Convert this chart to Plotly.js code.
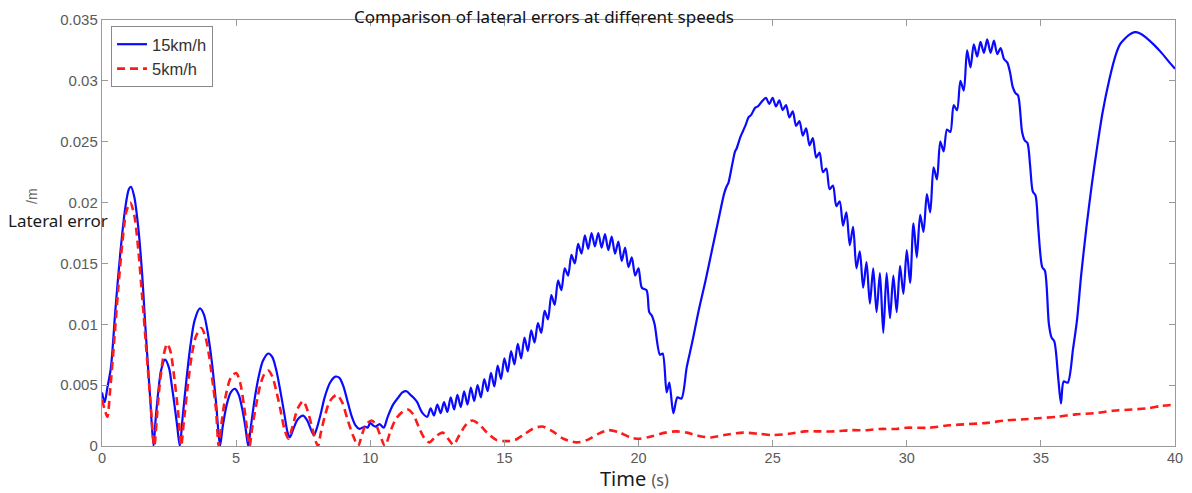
<!DOCTYPE html>
<html>
<head>
<meta charset="utf-8">
<script src="https://cdn.plot.ly/plotly-3.0.1.min.js"></script>
<style>
  html, body { margin: 0; padding: 0; background: #ffffff; }
  #chart { width: 1192px; height: 493px; }
</style>
</head>
<body>
<div id="chart"></div>
<script>
// ---- Data ----
const seriesNames = ["15km/h", "5km/h"];

const time15 = [
  0, 0.1, 0.2, 0.33, 0.5, 0.68, 0.87, 1.0, 1.08, 1.2, 1.35, 1.5, 1.6, 1.7, 1.8, 1.92,
  2.0, 2.1, 2.2, 2.35, 2.5, 2.6, 2.7, 2.8, 2.9,
  3.0, 3.15, 3.3, 3.45, 3.65, 3.8, 3.95, 4.1, 4.25, 4.4,
  4.5, 4.65, 4.8, 4.96, 5.1, 5.25, 5.35, 5.45,
  5.55, 5.7, 5.85, 6.0, 6.2, 6.35, 6.5, 6.65, 6.8, 6.92, 7.0,
  7.15, 7.3, 7.5, 7.65, 7.8, 7.9,
  8.0, 8.15, 8.3, 8.5, 8.7, 8.85, 9.0, 9.15, 9.3, 9.45, 9.6,
  9.8, 9.9, 10.0, 10.1, 10.2, 10.35, 10.5, 10.65, 10.85, 11.05, 11.2, 11.35, 11.5, 11.6, 11.75, 11.85, 11.95,
  12.125, 12.25, 12.375, 12.5, 12.625, 12.75, 12.875, 13.0, 13.125, 13.25, 13.375, 13.5, 13.625, 13.75, 13.875,
  14.0, 14.125, 14.25, 14.375, 14.5, 14.625, 14.75, 14.875, 15.0, 15.125, 15.25, 15.375, 15.5, 15.625, 15.75, 15.875,
  16.0, 16.125, 16.25, 16.375, 16.5, 16.625, 16.75, 16.875, 17.0, 17.125, 17.25, 17.375, 17.5, 17.625, 17.75, 17.875,
  18.0, 18.125, 18.25, 18.375, 18.5, 18.625, 18.75, 18.875, 19.0, 19.125, 19.25, 19.375, 19.5, 19.625, 19.75, 19.875,
  20.0, 20.125, 20.3, 20.4, 20.5, 20.6, 20.8, 20.9, 21.05, 21.15, 21.3, 21.45, 21.6, 21.8,
  22.0, 22.25, 22.5, 22.75, 23.0, 23.2, 23.3, 23.35, 23.5, 23.6, 23.65, 23.8, 23.9, 24.0, 24.1, 24.2, 24.35, 24.45, 24.6,
  24.75, 24.875, 25.0, 25.125, 25.25, 25.375, 25.5, 25.625, 25.75, 25.875, 26.0, 26.125, 26.25, 26.375, 26.5, 26.625,
  26.75, 26.875, 27.0, 27.125, 27.25, 27.375, 27.5, 27.625, 27.75, 27.875, 28.0, 28.125, 28.25, 28.375, 28.5, 28.625,
  28.75, 28.875, 29.0, 29.125, 29.25, 29.375, 29.5, 29.625, 29.75, 29.875, 30.0, 30.125, 30.25, 30.375, 30.5, 30.625,
  30.75, 30.875, 31.0, 31.125, 31.25, 31.375, 31.5, 31.625, 31.75, 31.875, 32.0, 32.125, 32.25, 32.375, 32.5, 32.625,
  32.75, 32.875, 33.0, 33.125, 33.25, 33.375, 33.5, 33.625,
  33.75, 33.85, 33.95, 34.05, 34.15, 34.3, 34.4, 34.5, 34.6, 34.7, 34.8, 34.9, 35.05, 35.15, 35.3, 35.4, 35.5, 35.65, 35.75,
  35.85, 36.0, 36.2, 36.35, 36.5, 36.7, 36.9, 37.1, 37.3, 37.55, 37.8, 37.95, 38.1, 38.3, 38.5, 38.7, 38.9, 39.2, 39.5, 39.8, 40.0
];
const err15 = [
  0.0044, 0.0036, 0.0048, 0.0064, 0.0112, 0.0158, 0.0196, 0.0211, 0.0213, 0.0205, 0.0180, 0.0140, 0.0104, 0.0070, 0.0038, 0,
  0.0022, 0.0045, 0.0062, 0.0071, 0.0064, 0.0050, 0.0034, 0.0017, 0,
  0.0022, 0.0055, 0.0083, 0.0103, 0.0113, 0.0108, 0.0092, 0.0068, 0.0036, 0,
  0.0016, 0.0034, 0.0044, 0.0047, 0.0042, 0.0028, 0.0015, 0,
  0.0016, 0.0040, 0.0058, 0.0070, 0.0076, 0.0073, 0.0062, 0.0045, 0.0026, 0.0011, 0.0007,
  0.0015, 0.0022, 0.0025, 0.0021, 0.0013, 0.0009,
  0.0014, 0.0026, 0.0040, 0.0052, 0.0057, 0.0056, 0.0049, 0.0037, 0.0025, 0.0017, 0.0014,
  0.0016, 0.0015, 0.0019, 0.0017, 0.0016, 0.0018, 0.0015, 0.0024, 0.0034, 0.0040, 0.0044, 0.0045, 0.0042, 0.0040, 0.0036, 0.0031, 0.0027,
  0.0024, 0.0031, 0.0025, 0.0034, 0.0027, 0.0036, 0.0028, 0.0040, 0.0030, 0.0042, 0.0032, 0.0045, 0.0034, 0.0048, 0.0037,
  0.0050, 0.0040, 0.0055, 0.0045, 0.0060, 0.0049, 0.0066, 0.0055, 0.0072, 0.0061, 0.0078, 0.0067, 0.0084, 0.0072, 0.0089, 0.0078,
  0.0095, 0.0085, 0.0101, 0.0093, 0.0111, 0.0104, 0.0124, 0.0116, 0.0136, 0.0128, 0.0146, 0.0140, 0.0157, 0.0150, 0.0166, 0.0158,
  0.0173, 0.0162, 0.0175, 0.0164, 0.0175, 0.0163, 0.0174, 0.0161, 0.0172, 0.0158, 0.0168, 0.0152, 0.0163, 0.0147, 0.0155, 0.0140,
  0.0146, 0.0130, 0.0128, 0.0110, 0.0107, 0.0100, 0.0075, 0.0076, 0.0044, 0.0052, 0.0027, 0.0040, 0.0039, 0.0065,
  0.0085, 0.0112, 0.0136, 0.0162, 0.0188, 0.0208, 0.0214, 0.0216, 0.0232, 0.0242, 0.0244, 0.0254, 0.0259, 0.0264, 0.0270, 0.0272, 0.0278, 0.0279, 0.0283,
  0.0286, 0.0281, 0.0286, 0.0279, 0.0284, 0.0276, 0.0280, 0.0270, 0.0275, 0.0263, 0.0267, 0.0255, 0.0261, 0.0247, 0.0253, 0.0237,
  0.0241, 0.0225, 0.0228, 0.0211, 0.0214, 0.0197, 0.0201, 0.0181, 0.0192, 0.0165, 0.0180, 0.0146, 0.0160, 0.0130, 0.0151, 0.0117,
  0.0146, 0.0110, 0.0142, 0.0093, 0.0142, 0.0105, 0.0140, 0.0110, 0.0148, 0.0125, 0.0161, 0.0134, 0.0183, 0.0155, 0.0190, 0.0176,
  0.0207, 0.0192, 0.0229, 0.0219, 0.0250, 0.0242, 0.0260, 0.0258, 0.0280, 0.0276, 0.0300, 0.0292, 0.0325, 0.0311, 0.0330, 0.0320,
  0.0332, 0.0323, 0.0334, 0.0323, 0.0333, 0.0322, 0.0327, 0.0318,
  0.0315, 0.0307, 0.0295, 0.0290, 0.0288, 0.0258, 0.0251, 0.0249, 0.0230, 0.0209, 0.0206, 0.0180, 0.0147, 0.0144, 0.0100, 0.0089, 0.0086, 0.0055, 0.0035,
  0.0053, 0.0052, 0.0080, 0.0104, 0.0140, 0.0180, 0.0215, 0.0246, 0.0274, 0.0301, 0.0322, 0.0330, 0.0334, 0.0338, 0.0340, 0.0339, 0.0336, 0.0330, 0.0323, 0.0315, 0.0310
];

const time5 = [
  0, 0.1, 0.2, 0.3, 0.45, 0.6, 0.75, 0.9, 1.05, 1.2, 1.35, 1.5, 1.65, 1.8, 1.95,
  2.05, 2.15, 2.3, 2.43, 2.55, 2.7, 2.85, 2.95,
  3.05, 3.2, 3.35, 3.5, 3.7, 3.85, 4.0, 4.15, 4.25, 4.35,
  4.45, 4.6, 4.8, 5.0, 5.15, 5.3, 5.4, 5.5,
  5.6, 5.75, 5.9, 6.05, 6.2, 6.35, 6.5, 6.65, 6.8, 6.95,
  7.1, 7.3, 7.5, 7.65, 7.8, 7.95, 8.05,
  8.15, 8.3, 8.5, 8.75, 8.95, 9.15, 9.35, 9.55,
  9.7, 9.85, 10.05, 10.2, 10.35, 10.55,
  10.75, 10.95, 11.2, 11.4, 11.6, 11.8, 12.0, 12.2, 12.45, 12.7, 12.9, 13.1, 13.3, 13.55, 13.8, 14.05, 14.35, 14.7,
  15.1, 15.4, 15.7, 16.05, 16.4, 16.8, 17.2, 17.7, 18.1, 18.5, 18.9, 19.3, 19.7, 20.05, 20.5, 21.0, 21.4, 21.8,
  22.3, 22.7, 23.2, 23.9, 24.5, 25.0, 25.6, 26.2, 26.8, 27.3, 27.9, 28.5, 29.0, 29.6, 30.0, 30.8, 31.6, 32.3,
  33.0, 33.7, 34.4, 35.0, 35.6, 36.3, 37.0, 37.7, 38.4, 39.0, 39.5, 40.0
];
const err5 = [
  0.0038, 0.0030, 0.0024, 0.0045, 0.0085, 0.0128, 0.0165, 0.0192, 0.0200, 0.0190, 0.0162, 0.0122, 0.0080, 0.0038, 0,
  0.0025, 0.0050, 0.0075, 0.0084, 0.0078, 0.0055, 0.0025, 0,
  0.0020, 0.0050, 0.0075, 0.0090, 0.0097, 0.0090, 0.0073, 0.0048, 0.0030, 0,
  0.0018, 0.0040, 0.0056, 0.0060, 0.0052, 0.0032, 0.0015, 0,
  0.0015, 0.0034, 0.0050, 0.0059, 0.0062, 0.0057, 0.0045, 0.0030, 0.0014, 0.0006,
  0.0016, 0.0031, 0.0037, 0.0030, 0.0018, 0.0005, 0,
  0.0010, 0.0024, 0.0037, 0.0042, 0.0036, 0.0022, 0.0009, 0,
  0.0010, 0.0018, 0.0021, 0.0018, 0.0010, 0,
  0.0012, 0.0022, 0.0028, 0.0030, 0.0026, 0.0016, 0.0007, 0.0003, 0.0008, 0.0011, 0.0006, 0.0001, 0.0008, 0.0017, 0.0021, 0.0018, 0.0011, 0.0005,
  0.0004, 0.0005, 0.0009, 0.0014, 0.0016, 0.0012, 0.0006, 0.0003, 0.0005, 0.0010, 0.0013, 0.0011, 0.0007, 0.0006, 0.0008, 0.0011, 0.0012, 0.0011,
  0.0008, 0.0007, 0.0009, 0.0011, 0.0010, 0.0009, 0.0010, 0.0012, 0.0012, 0.0012, 0.0013, 0.0013, 0.0014, 0.0014, 0.0015, 0.0015, 0.0017, 0.0018,
  0.0019, 0.0021, 0.0022, 0.0023, 0.0024, 0.0026, 0.0027, 0.0029, 0.0030, 0.0031, 0.0033, 0.0034
];

const xTickVals = [0, 5, 10, 15, 20, 25, 30, 35, 40];
const yTickVals = [0, 0.005, 0.01, 0.015, 0.02, 0.025, 0.03, 0.035];
const yTickText = ["0", "0.005", "0.01", "0.015", "0.02", "0.025", "0.03", "0.035"];

const titleText = "Comparison of lateral errors at different speeds";
const yLabelText = "Lateral error";
const yUnitText = "/m";
const xLabelMain = "Time";
const xLabelUnit = "(s)";

// ---- Chart ----
const traces = [
  {
    x: time15, y: err15, name: seriesNames[0], type: "scatter", mode: "lines",
    line: { color: "#0a0aff", width: 2.2, shape: "spline", smoothing: 0.8 }
  },
  {
    x: time5, y: err5, name: seriesNames[1], type: "scatter", mode: "lines",
    line: { color: "#ff1a1a", width: 2.6, dash: "8px,5px", shape: "spline", smoothing: 0.8 }
  }
];

const axisColor = "#9a9a9a";
const tickFont = { family: "Arial, Liberation Sans, sans-serif", size: 15, color: "#5a5a5a" };

const layout = {
  width: 1192, height: 493,
  margin: { l: 102, r: 17, t: 20, b: 47, pad: 0 },
  paper_bgcolor: "#ffffff", plot_bgcolor: "#ffffff",
  showlegend: true,
  title: {
    text: titleText,
    font: { family: "Noto Sans, Open Sans, sans-serif", size: 17, color: "#111111" },
    x: 544 / 1192, xref: "container", xanchor: "center",
    y: 1 - 17 / 493, yref: "container", yanchor: "middle"
  },
  xaxis: {
    range: [0, 40], tickvals: xTickVals, ticktext: xTickVals.map(String),
    showgrid: false, zeroline: false,
    showline: true, linecolor: axisColor, linewidth: 1.2, mirror: "ticks",
    ticks: "inside", ticklen: 6, tickcolor: axisColor, tickwidth: 1,
    tickfont: { family: "Arial, Liberation Sans, sans-serif", size: 14.5, color: "#5a5a5a" },
    ticklabelstandoff: -2
  },
  yaxis: {
    range: [0, 0.035], tickvals: yTickVals, ticktext: yTickText,
    showgrid: false, zeroline: false,
    showline: true, linecolor: axisColor, linewidth: 1.2, mirror: "ticks",
    ticks: "inside", ticklen: 6, tickcolor: axisColor, tickwidth: 1,
    tickfont: tickFont
  },
  legend: {
    x: 0.0084, y: 0.986, xanchor: "left", yanchor: "top",
    bgcolor: "#ffffff", bordercolor: "#8a8a8a", borderwidth: 1,
    font: { family: "Arial, Liberation Sans, sans-serif", size: 16.5, color: "#333333" },
    tracegroupgap: 0, itemwidth: 30
  },
  annotations: [
    {
      text: yLabelText, xref: "paper", yref: "paper",
      x: (58 - 102) / 1073, y: (446 - 220) / 426, xanchor: "center", yanchor: "middle",
      showarrow: false,
      font: { family: "Noto Sans, Open Sans, sans-serif", size: 17, color: "#1a1a1a" }
    },
    {
      text: yUnitText, xref: "paper", yref: "paper",
      x: (32 - 102) / 1073, y: (446 - 196) / 426, xanchor: "center", yanchor: "middle",
      textangle: -90, showarrow: false,
      font: { family: "Arial, Liberation Sans, sans-serif", size: 14, color: "#6a6a6a" }
    },
    {
      text: xLabelMain + " <span style='font-size:16px;color:#555555'>" + xLabelUnit + "</span>",
      xref: "paper", yref: "paper",
      x: (634 - 102) / 1073, y: (446 - 493) / 426, xanchor: "center", yanchor: "bottom",
      borderpad: 0,
      showarrow: false,
      font: { family: "Noto Sans, Open Sans, sans-serif", size: 20, color: "#1a1a1a" }
    }
  ]
};

Plotly.newPlot("chart", traces, layout, { displayModeBar: false, staticPlot: true });
</script>
</body>
</html>
